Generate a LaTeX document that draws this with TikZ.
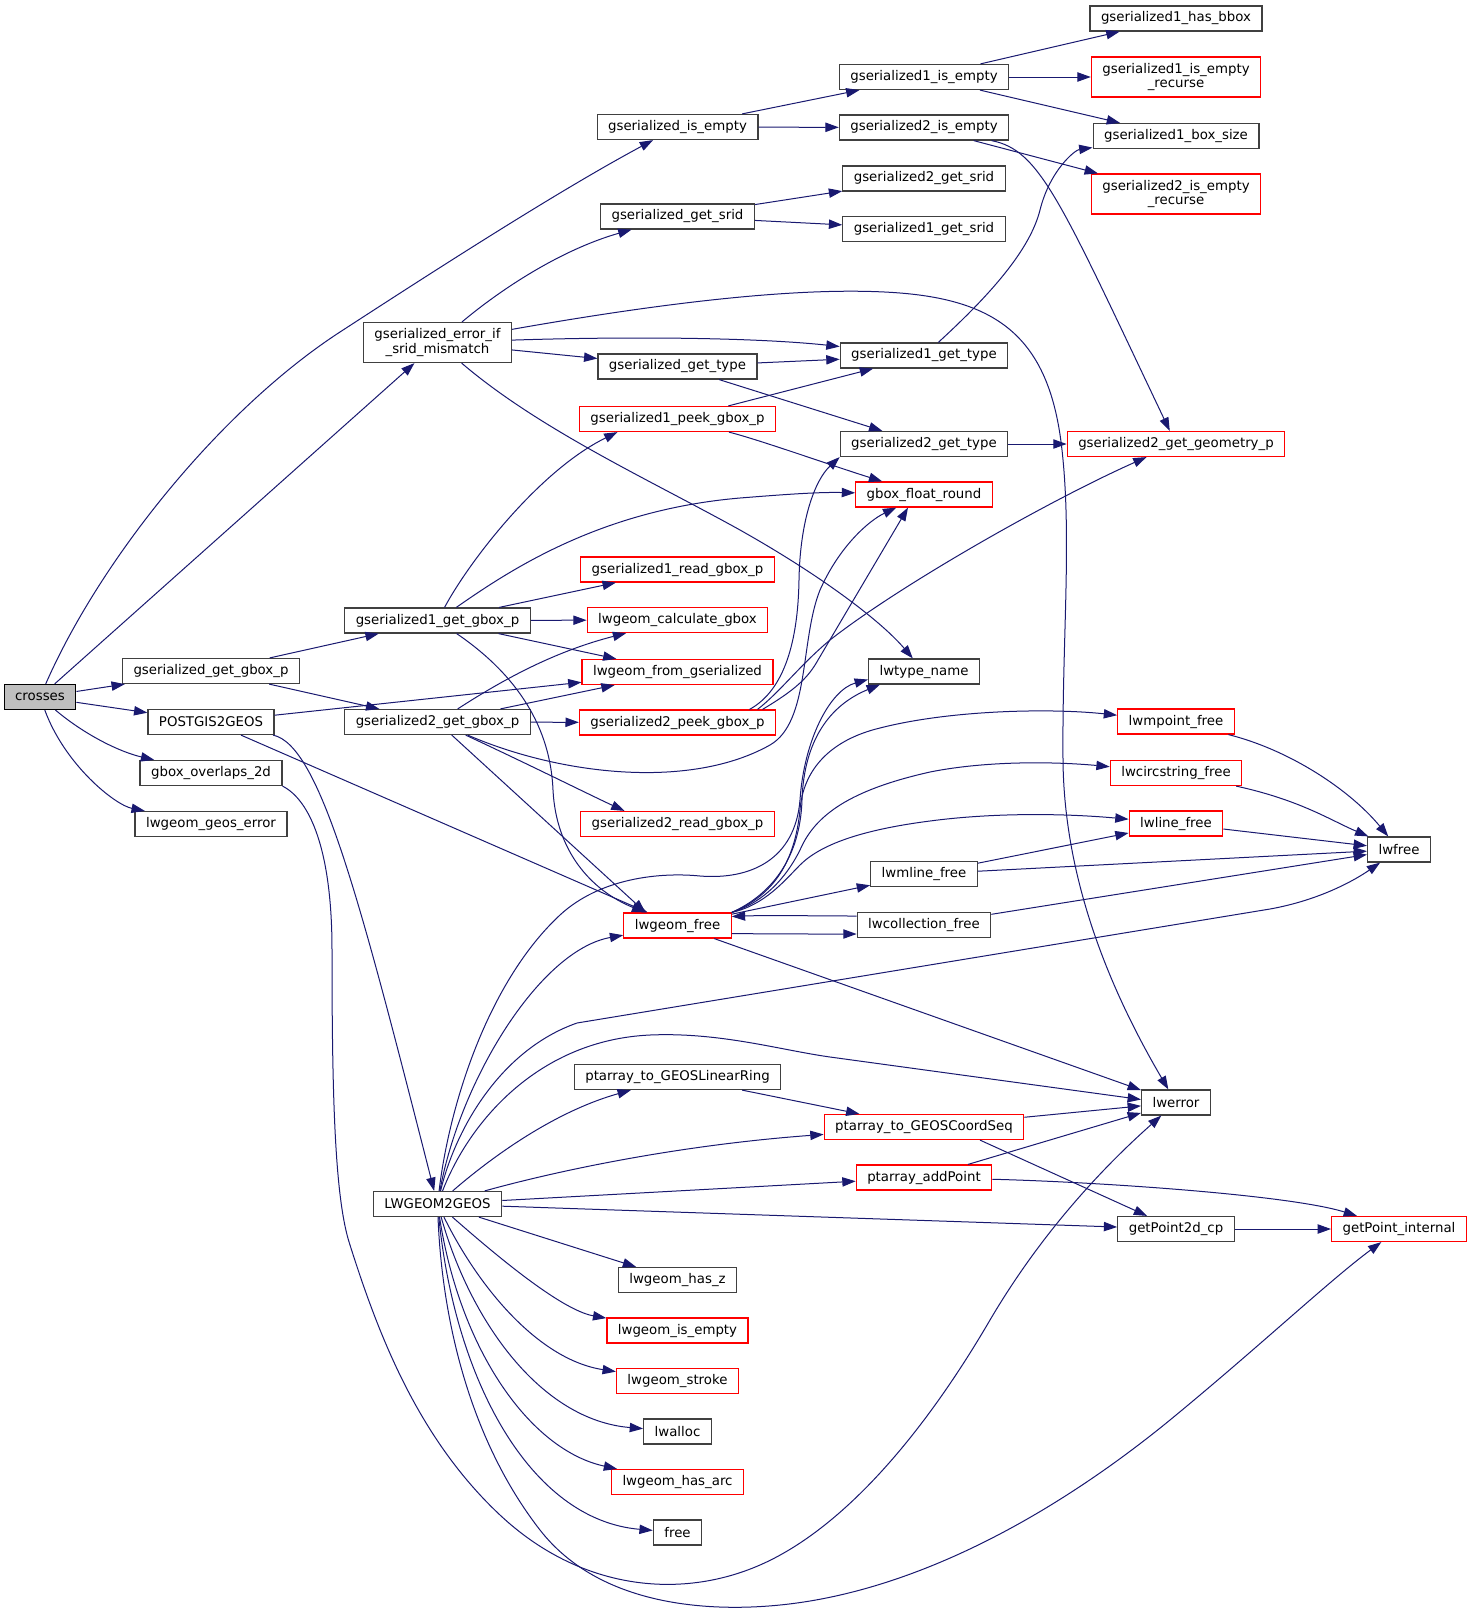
\documentclass[tikz,border=0pt]{standalone}
\usepackage{fontspec}
\setmainfont{DejaVu Sans}
\usetikzlibrary{arrows.meta,calc}
\definecolor{edgec}{HTML}{191970}
\definecolor{boxc}{HTML}{404040}
\definecolor{redc}{HTML}{FF0000}
\definecolor{grayfill}{HTML}{BFBFBF}
\tikzset{
  blk/.style={draw=boxc, line width=0.9pt, fill=white, font=\fontsize{10}{11}\selectfont,
    inner xsep=8.25pt, inner ysep=1pt, minimum height=18.75pt, align=center},
  redb/.style={blk, draw=redc},
  twoline/.style={minimum height=30pt},
  cg/.style={draw=edgec, line width=0.75pt, -{Triangle[length=10pt,width=7pt]}},
}
\begin{document}
\begin{tikzpicture}[x=0.75pt,y=-0.75pt]
\fill[white] (0,0) rectangle (1471,1617);
\useasboundingbox (0,0) rectangle (1471,1617);

% column 0
\node[blk,fill=grayfill,draw=black] (crosses) at (40,697) {crosses};
% column 1
\node[blk] (ggetgbox) at (211,671) {gserialized\_get\_gbox\_p};
\node[blk] (postgis) at (211,722) {POSTGIS2GEOS};
\node[blk] (gboxov) at (211,773) {gbox\_overlaps\_2d};
\node[blk] (geoserr) at (211,824) {lwgeom\_geos\_error};
% column 2
\node[blk,twoline] (errorif) at (437.5,342.5) {gserialized\_error\_if\\\_srid\_mismatch};
\node[blk] (g1getgbox) at (437.5,620.5) {gserialized1\_get\_gbox\_p};
\node[blk] (g2getgbox) at (437.5,722) {gserialized2\_get\_gbox\_p};
\node[blk] (l2g) at (437.5,1204) {LWGEOM2GEOS};
% column 3
\node[blk] (gisempty) at (677.5,127) {gserialized\_is\_empty};
\node[blk] (ggetsrid) at (677.5,216.5) {gserialized\_get\_srid};
\node[blk] (ggettype) at (677.5,366.5) {gserialized\_get\_type};
\node[redb] (g1peek) at (677.5,419) {gserialized1\_peek\_gbox\_p};
\node[redb] (g1read) at (677.5,569.5) {gserialized1\_read\_gbox\_p};
\node[redb] (calc) at (677.5,620) {lwgeom\_calculate\_gbox};
\node[redb] (fromgs) at (677.5,672) {lwgeom\_from\_gserialized};
\node[redb] (g2peek) at (677.5,722.5) {gserialized2\_peek\_gbox\_p};
\node[redb] (g2read) at (677.5,824) {gserialized2\_read\_gbox\_p};
\node[redb] (lwgeomfree) at (677.5,925.5) {lwgeom\_free};
\node[blk] (linring) at (677.5,1077) {ptarray\_to\_GEOSLinearRing};
\node[blk] (hasz) at (677.5,1280) {lwgeom\_has\_z};
\node[redb] (isempty) at (677.5,1330.5) {lwgeom\_is\_empty};
\node[redb] (stroke) at (677.5,1381) {lwgeom\_stroke};
\node[blk] (lwalloc) at (677.5,1431.5) {lwalloc};
\node[redb] (hasarc) at (677.5,1482) {lwgeom\_has\_arc};
\node[blk] (free) at (677.5,1532.5) {free};
% column 4
\node[blk] (g1isempty) at (924,77) {gserialized1\_is\_empty};
\node[blk] (g2isempty) at (924,127.5) {gserialized2\_is\_empty};
\node[blk] (g2getsrid) at (924,178.5) {gserialized2\_get\_srid};
\node[blk] (g1getsrid) at (924,229) {gserialized1\_get\_srid};
\node[blk] (g1gettype) at (924,355.5) {gserialized1\_get\_type};
\node[blk] (g2gettype) at (924,444) {gserialized2\_get\_type};
\node[redb] (gboxfloat) at (924,494.5) {gbox\_float\_round};
\node[blk] (lwtypename) at (924,671.5) {lwtype\_name};
\node[blk] (lwmlinefree) at (924,874) {lwmline\_free};
\node[blk] (lwcollfree) at (924,925) {lwcollection\_free};
\node[redb] (coordseq) at (924,1127) {ptarray\_to\_GEOSCoordSeq};
\node[redb] (addpoint) at (924,1177.5) {ptarray\_addPoint};
% column 5
\node[blk] (hasbbox) at (1176,18.5) {gserialized1\_has\_bbox};
\node[redb,twoline] (g1isemptyrec) at (1176,77) {gserialized1\_is\_empty\\\_recurse};
\node[blk] (g1boxsize) at (1176,136) {gserialized1\_box\_size};
\node[redb,twoline] (g2isemptyrec) at (1176,194) {gserialized2\_is\_empty\\\_recurse};
\node[redb] (g2getgeom) at (1176,444) {gserialized2\_get\_geometry\_p};
\node[redb] (lwmpointfree) at (1176,721.5) {lwmpoint\_free};
\node[redb] (lwcircfree) at (1176,773) {lwcircstring\_free};
\node[redb] (lwlinefree) at (1176,823.5) {lwline\_free};
\node[blk] (lwerror) at (1176,1102.5) {lwerror};
\node[blk] (getpoint2d) at (1176,1229) {getPoint2d\_cp};
% column 6
\node[blk] (lwfree) at (1399,849.5) {lwfree};
\node[redb] (getpointint) at (1399,1229) {getPoint\_internal};

% crosses
\draw[cg] (crosses) .. controls (100,560) and (220,410) .. (340,332) .. controls (440,267) and (560,190) .. (gisempty);
\draw[cg] (crosses) -- (errorif);
\draw[cg] (crosses) -- (ggetgbox);
\draw[cg] (crosses) -- (postgis);
\draw[cg] (crosses) .. controls (85,735) and (120,752) .. (gboxov);
\draw[cg] (crosses) .. controls (65,765) and (115,805) .. (geoserr);
% column 1
\draw[cg] (ggetgbox) -- (g1getgbox);
\draw[cg] (ggetgbox) -- (g2getgbox);
\draw[cg] (postgis) -- (fromgs);
\draw[cg] (postgis) -- (lwgeomfree);
\draw[cg] (postgis) .. controls (320,745) and (360,900) .. (l2g);
\draw[cg] (gboxov.south east) .. controls (310,800) and (332,850) .. (332,950)
  .. controls (332,1100) and (335,1200) .. (350,1245)
  .. controls (380,1340) and (420,1440) .. (500,1515)
  .. controls (580,1590) and (680,1600) .. (760,1565)
  .. controls (840,1530) and (920,1440) .. (990,1320)
  .. controls (1040,1235) and (1100,1170) .. (lwerror);
% is_empty family
\draw[cg] (gisempty) -- (g1isempty);
\draw[cg] (gisempty) -- (g2isempty);
\draw[cg] (g1isempty) -- (hasbbox);
\draw[cg] (g1isempty) -- (g1isemptyrec);
\draw[cg] (g1isempty) -- (g1boxsize);
\draw[cg] (g2isempty) -- (g2isemptyrec);
\draw[cg] (g2isempty) .. controls (1040,150) and (1060,200) .. (g2getgeom);
% srid
\draw[cg] (ggetsrid) -- (g2getsrid);
\draw[cg] (ggetsrid) -- (g1getsrid);
% error_if
\draw[cg] (errorif) .. controls (500,290) and (560,250) .. (ggetsrid);
\draw[cg] (errorif) .. controls (650,305) and (800,285) .. (900,293)
  .. controls (1000,301) and (1050,340) .. (1062,450)
  .. controls (1072,540) and (1062,640) .. (1063,760)
  .. controls (1064,880) and (1110,990) .. (lwerror);
\draw[cg] (errorif) .. controls (640,336) and (760,338) .. (g1gettype);
\draw[cg] (errorif) -- (ggettype);
\draw[cg] (errorif) .. controls (540,430) and (650,480) .. (740,530) .. controls (820,575) and (880,620) .. (lwtypename);
% types
\draw[cg] (ggettype) -- (g1gettype);
\draw[cg] (ggettype) -- (g2gettype);
\draw[cg] (g1gettype) .. controls (990,295) and (1030,250) .. (1040,210) .. controls (1050,170) and (1075,150) .. (g1boxsize);
\draw[cg] (g2gettype) -- (g2getgeom);
\draw[cg] (g1peek) -- (g1gettype);
\draw[cg] (g1peek) .. controls (760,440) and (830,465) .. (gboxfloat);
% gserialized1_get_gbox_p
\draw[cg] (g1getgbox) .. controls (470,560) and (540,470) .. ($(g1peek.south)+(-60,0)$);
\draw[cg] (g1getgbox) .. controls (510,570) and (600,510) .. (740,498) .. controls (790,494) and (820,492) .. (gboxfloat);
\draw[cg] (g1getgbox) -- (g1read);
\draw[cg] (g1getgbox) -- (calc);
\draw[cg] (g1getgbox) -- (fromgs);
\draw[cg] (g1getgbox) .. controls (510,670) and (550,720) .. (553,790) .. controls (556,850) and (590,890) .. (lwgeomfree);
% gserialized2_get_gbox_p
\draw[cg] (g2getgbox) .. controls (510,675) and (560,650) .. (calc);
\draw[cg] (g2getgbox) -- (fromgs);
\draw[cg] (g2getgbox) -- (g2peek);
\draw[cg] (g2getgbox) .. controls (560,775) and (690,790) .. (770,745)
  .. controls (810,722) and (800,640) .. (820,590)
  .. controls (840,545) and (870,520) .. (gboxfloat);
\draw[cg] (g2getgbox) .. controls (530,765) and (590,795) .. ($(g2read.north)+(-53,0)$);
\draw[cg] (g2getgbox) -- ($(lwgeomfree.north)+(-32,0)$);
% gserialized2_peek_gbox_p
\draw[cg] ($(g2peek.north)+(72,0)$) .. controls (785,690) and (798,640) .. (799,580) .. controls (800,520) and (815,480) .. (g2gettype.south west);
\draw[cg] ($(g2peek.north)+(85,0)$) .. controls (795,690) and (808,678) .. (818,660) -- ($(gboxfloat.south)+(-16,0)$);
\draw[cg] ($(g2peek.north)+(80,0)$) .. controls (780,692) and (800,665) .. (830,640) .. controls (900,585) and (1050,500) .. (g2getgeom);
% lwgeom_free
\draw[cg] (lwgeomfree.north east) .. controls (770,895) and (800,860) .. (802,800) .. controls (804,740) and (830,705) .. ($(lwtypename.south west)+(12,0)$);
\draw[cg] (lwgeomfree.north east) .. controls (775,895) and (795,860) .. (800,810) .. controls (803,770) and (830,740) .. (880,728) .. controls (950,710) and (1050,708) .. (lwmpointfree);
\draw[cg] (lwgeomfree.north east) .. controls (770,900) and (790,870) .. (800,850) .. controls (815,815) and (850,790) .. (930,772) .. controls (990,760) and (1060,762) .. (lwcircfree);
\draw[cg] (lwgeomfree.north east) .. controls (765,905) and (785,880) .. (800,865) .. controls (820,845) and (860,830) .. (930,821) .. controls (990,813) and (1060,813) .. (lwlinefree);
\draw[cg] (lwgeomfree) -- (lwmlinefree);
\draw[cg] ($(lwgeomfree.east)+(0,8)$) .. controls (770,934) and (800,934) .. ($(lwcollfree.west)+(0,9)$);
\draw[cg] ($(lwcollfree.west)+(0,-9)$) .. controls (810,916) and (770,915) .. ($(lwgeomfree.east)+(0,-9)$);
\draw[cg] (lwgeomfree) -- (lwerror);
% lwfree
\draw[cg] (lwmpointfree) .. controls (1290,750) and (1350,790) .. (lwfree);
\draw[cg] (lwcircfree) .. controls (1300,800) and (1330,820) .. (lwfree);
\draw[cg] (lwlinefree) -- (lwfree);
\draw[cg] (lwmlinefree) -- (lwfree);
\draw[cg] (lwmlinefree) -- (lwlinefree);
\draw[cg] (lwcollfree) -- (lwfree);
% LWGEOM2GEOS
\draw[cg] (l2g) .. controls (455,1130) and (500,1050) .. (577,1023) -- (1270,909) .. controls (1320,900) and (1355,880) .. (lwfree);
\draw[cg] (l2g) .. controls (470,1120) and (540,1040) .. (650,1035) .. controls (720,1032) and (780,1050) .. (830,1057) -- ($(lwerror.west)+(0,-3)$);
\draw[cg] (l2g) .. controls (460,1080) and (540,950) .. (lwgeomfree);
\draw[cg] (l2g) .. controls (450,1100) and (490,980) .. (560,915)
  .. controls (600,878) and (660,872) .. (700,876)
  .. controls (750,880) and (795,860) .. (800,800)
  .. controls (804,740) and (830,690) .. ($(lwtypename.west)+(0,8)$);
\draw[cg] (l2g) .. controls (500,1150) and (560,1110) .. (linring);
\draw[cg] (l2g) .. controls (560,1170) and (680,1145) .. (coordseq);
\draw[cg] (l2g) -- (addpoint);
\draw[cg] (l2g) -- (getpoint2d);
\draw[cg] (l2g) -- (hasz);
\draw[cg] (l2g) .. controls (490,1250) and (560,1310) .. (isempty);
\draw[cg] (l2g) .. controls (480,1290) and (540,1360) .. (stroke);
\draw[cg] (l2g) .. controls (470,1320) and (540,1420) .. (lwalloc);
\draw[cg] (l2g) .. controls (460,1350) and (530,1450) .. (hasarc);
\draw[cg] (l2g) .. controls (455,1380) and (530,1520) .. (free);
\draw[cg] (l2g) .. controls (442,1320) and (470,1440) .. (540,1530)
  .. controls (600,1607) and (710,1612) .. (780,1605)
  .. controls (920,1591) and (1060,1510) .. (1170,1420)
  .. controls (1260,1346) and (1330,1280) .. (getpointint);
% point arrays
\draw[cg] (linring) -- (coordseq);
\draw[cg] (coordseq) -- (lwerror);
\draw[cg] ($(coordseq.south)+(56,0)$) -- (getpoint2d);
\draw[cg] (addpoint) -- (lwerror);
\draw[cg] (addpoint) .. controls (1100,1182) and (1290,1195) .. (getpointint);
\draw[cg] (getpoint2d) -- (getpointint);
\end{tikzpicture}
\end{document}
